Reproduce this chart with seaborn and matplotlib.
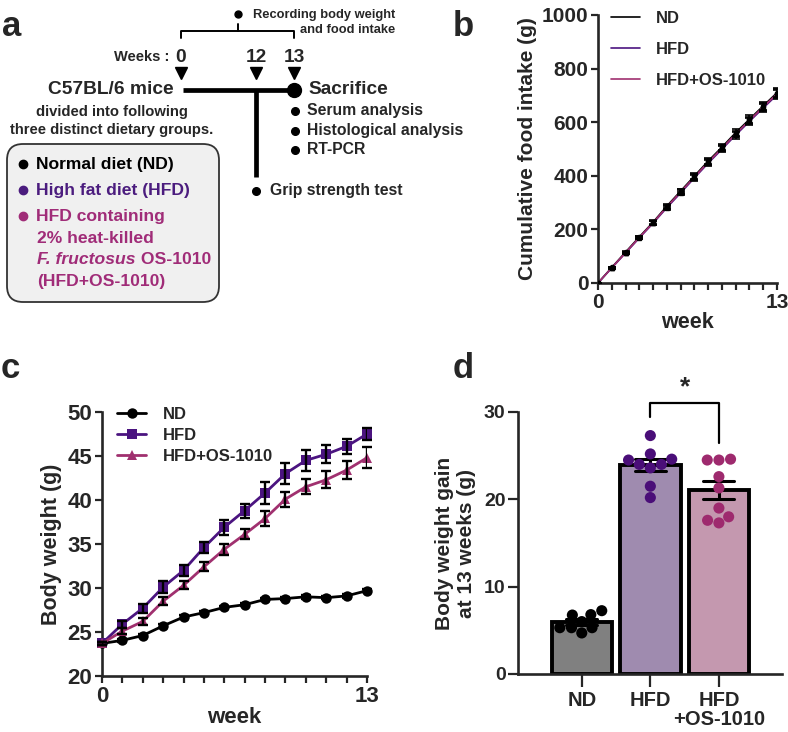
import numpy as np
import pandas as pd
import matplotlib
matplotlib.use("Agg")
import matplotlib.pyplot as plt
import seaborn as sns
from matplotlib.patches import FancyBboxPatch
from matplotlib.ticker import MultipleLocator

sns.set_style("ticks")
plt.rcParams['font.family'] = ['Liberation Sans', 'DejaVu Sans']
plt.rcParams['font.weight'] = 'bold'
plt.rcParams['axes.labelweight'] = 'bold'

# ---- data ----
groups = ['ND', 'HFD', 'HFD+OS-1010']
weeks = list(range(14))

# cumulative food intake (g)
food_nd = [0, 58, 115, 172, 227, 287, 343, 399, 455, 507, 561, 611, 661, 710]
food_hfd = [0, 56, 112, 168, 223, 281, 336, 392, 447, 499, 552, 603, 653, 702]
food_os = [0, 57, 113, 170, 225, 284, 340, 395, 451, 503, 556, 607, 657, 706]
food_sem = [0, 3, 4, 5, 7, 8, 9, 10, 11, 12, 13, 14, 15, 17]

# body weight (g)
bw_nd = [23.7, 24.05, 24.6, 25.7, 26.7, 27.2, 27.8, 28.1, 28.7, 28.8, 29.0, 28.9, 29.1, 29.7]
bw_hfd = [23.7, 25.9, 27.7, 30.1, 32.0, 34.6, 36.9, 38.8, 40.8, 43.0, 44.5, 45.2, 46.1, 47.5]
bw_os = [23.7, 25.1, 26.2, 28.5, 30.3, 32.4, 34.4, 36.1, 37.9, 40.1, 41.5, 42.3, 43.4, 44.8]
bw_nd_sem = [0.2, 0.2, 0.2, 0.2, 0.2, 0.2, 0.2, 0.2, 0.2, 0.2, 0.2, 0.2, 0.2, 0.2]
bw_hfd_sem = [0.2, 0.4, 0.5, 0.65, 0.65, 0.65, 0.85, 0.8, 1.2, 1.2, 1.2, 1.0, 0.85, 0.7]
bw_os_sem = [0.2, 0.3, 0.4, 0.45, 0.45, 0.5, 0.65, 0.55, 0.8, 0.85, 0.85, 0.95, 1.0, 1.2]

# body weight gain at 13 weeks (g), individual mice
gain_nd = [7.25, 6.0, 4.7, 5.3, 6.75, 5.3, 6.8, 5.3]
gain_hfd = [27.3, 24.6, 24.0, 23.6, 25.2, 24.0, 24.5, 21.5, 20.2]
gain_os = [24.5, 24.5, 24.6, 22.6, 21.3, 17.3, 18.0, 19.0, 17.6]

line_colors = ['#000000', '#4b1480', '#a0306f']
dot_colors = ['#000000', '#4a0e78', '#9e2a6e']
bar_colors = ['#808080', '#a085b5', '#cb91b0']
text_colors = ['#000000', '#4b1c7e', '#a02c78']

W, H = 788, 732
fig = plt.figure(figsize=(W / 100, H / 100), dpi=100)


def px_axes(l, t, r, b):
    return fig.add_axes([l / W, 1 - b / H, (r - l) / W, (b - t) / H])


def style_axis(ax, labelsize):
    sns.despine(ax=ax)
    for s in ['left', 'bottom']:
        ax.spines[s].set_linewidth(1.9)
    ax.tick_params(which='both', width=1.6, length=5, labelsize=labelsize, pad=2)


# ---------------- panel a (study design) ----------------
ax_a = px_axes(0, 0, 420, 340)
ax_a.set_xlim(0, 420)
ax_a.set_ylim(340, 0)
ax_a.axis('off')

ax_a.plot([181, 181, 294, 294], [38, 31, 31, 38], color='black', lw=1.4)
ax_a.plot([238, 238], [31, 24], color='black', lw=1.4)
ax_a.plot([238], [14], 'o', color='black', ms=5)
ax_a.text(253, 15, 'Recording body weight', fontsize=9.3, va='center', ha='left')
ax_a.text(395, 30, 'and food intake', fontsize=9.3, va='center', ha='right')

ax_a.text(169, 57, 'Weeks :', fontsize=10.5, va='center', ha='right')
for xw, lab in zip([181, 256, 294], ['0', '12', '13']):
    ax_a.text(xw, 57, lab, fontsize=13.8, va='center', ha='center')
    ax_a.plot([xw], [73], 'v', color='black', ms=9)

ax_a.plot([183, 294], [90, 90], color='black', lw=3.4, solid_capstyle='butt')
ax_a.plot([256, 256], [90, 177], color='black', lw=3.4, solid_capstyle='butt')
ax_a.plot([294], [90], 'o', color='black', ms=10)
ax_a.text(174, 90, 'C57BL/6 mice', fontsize=13.8, va='center', ha='right')
ax_a.text(308, 90, 'Sacrifice', fontsize=13.8, va='center', ha='left')
ax_a.text(112, 112, 'divided into following', fontsize=10.6, va='center', ha='center')
ax_a.text(112, 130, 'three distinct dietary groups.', fontsize=10.6, va='center', ha='center')

for yy, lab in zip([111, 131, 150], ['Serum analysis', 'Histological analysis', 'RT-PCR']):
    ax_a.plot([295], [yy], 'o', color='black', ms=5.5)
    ax_a.text(307, yy, lab, fontsize=11.3, va='center', ha='left')
ax_a.plot([256], [191], 'o', color='black', ms=5.5)
ax_a.text(270, 191, 'Grip strength test', fontsize=11.3, va='center', ha='left')

box = FancyBboxPatch((7, 144), 212, 158, boxstyle='round,pad=0,rounding_size=16',
                     facecolor='#f0f0f0', edgecolor='#333333', lw=1.3)
ax_a.add_patch(box)
ax_a.plot([23], [164], 'o', color=text_colors[0], ms=6)
ax_a.text(36, 164, 'Normal diet (ND)', fontsize=12.6, va='center', color=text_colors[0])
ax_a.plot([23], [190], 'o', color=text_colors[1], ms=6)
ax_a.text(36, 190, 'High fat diet (HFD)', fontsize=12.6, va='center', color=text_colors[1])
ax_a.plot([23], [216], 'o', color=text_colors[2], ms=6)
ax_a.text(36, 217, 'HFD containing', fontsize=12.6, va='center', color=text_colors[2])
ax_a.text(37, 238, '2% heat-killed', fontsize=12.6, va='center', color=text_colors[2])
t_it = ax_a.text(37, 259, 'F. fructosus', fontsize=12.6, va='center', style='italic',
                 color=text_colors[2])
ax_a.annotate(' OS-1010', xy=(1, 0.5), xycoords=t_it, fontsize=12.6, va='center',
              ha='left', color=text_colors[2])
ax_a.text(37, 281, '(HFD+OS-1010)', fontsize=12.6, va='center', color=text_colors[2])

# ---------------- panel b (food intake) ----------------
ax_b = px_axes(598, 15, 777, 283)
df_food = pd.DataFrame({
    'week': weeks * 3,
    'intake': food_nd + food_hfd + food_os,
    'group': [g for g in groups for _ in weeks],
})
sns.lineplot(data=df_food, x='week', y='intake', hue='group', hue_order=groups,
             palette=line_colors, lw=1.2, ax=ax_b)
for vals, c, m in zip([food_nd, food_hfd, food_os], line_colors, ['o', 's', '^']):
    ax_b.errorbar(weeks, vals, yerr=food_sem, fmt=m, ms=3, color='black', ecolor='black',
                  elinewidth=1.2, capsize=3, capthick=1.2, zorder=3)
ax_b.set_xlim(0, 13)
ax_b.set_ylim(0, 1000)
ax_b.set_xticks([0, 13])
ax_b.xaxis.set_minor_locator(MultipleLocator(1))
ax_b.set_yticks(range(0, 1001, 200))
ax_b.set_xlabel('week', fontsize=15.5, labelpad=0)
ax_b.set_ylabel('Cumulative food intake (g)', fontsize=15, labelpad=3)
style_axis(ax_b, 15)
leg = ax_b.legend(frameon=False, loc='upper left', bbox_to_anchor=(-0.01, 1.07),
                  fontsize=12, handlelength=1.75, labelspacing=0.95, handletextpad=0.9)
for h in leg.get_lines():
    h.set_linewidth(1.2)

# ---------------- panel c (body weight) ----------------
ax_c = px_axes(102, 412, 367, 676)
df_bw = pd.DataFrame({
    'week': weeks * 3,
    'bw': bw_nd + bw_hfd + bw_os,
    'group': [g for g in groups for _ in weeks],
})
for vals, sem in zip([bw_nd, bw_hfd, bw_os], [bw_nd_sem, bw_hfd_sem, bw_os_sem]):
    ax_c.errorbar(weeks, vals, yerr=sem, fmt='none', ecolor='black',
                  elinewidth=1.7, capsize=3.8, capthick=1.7, zorder=4)
sns.lineplot(data=df_bw, x='week', y='bw', hue='group', style='group', hue_order=groups,
             style_order=groups, palette=line_colors, markers=['o', 's', '^'], dashes=False,
             lw=2, markersize=7.5, markeredgewidth=0, ax=ax_c, zorder=3)
ax_c.set_xlim(0, 13)
ax_c.set_ylim(20, 50)
ax_c.set_xticks([0, 13])
ax_c.xaxis.set_minor_locator(MultipleLocator(1))
ax_c.set_yticks(range(20, 51, 5))
ax_c.set_xlabel('week', fontsize=16, labelpad=0)
ax_c.set_ylabel('Body weight (g)', fontsize=15.5, labelpad=4)
style_axis(ax_c, 16)
for ln in ax_c.get_lines():
    ln.set_clip_on(False)
ax_c.legend(frameon=False, loc='upper left', bbox_to_anchor=(0.0, 1.075),
            fontsize=12, handlelength=1.75, labelspacing=0.35, handletextpad=1.0)

# ---------------- panel d (body weight gain) ----------------
ax_d = px_axes(518, 412, 782, 674)
df_gain = pd.DataFrame({
    'group': ['ND'] * len(gain_nd) + ['HFD'] * len(gain_hfd) + ['HFD+OS-1010'] * len(gain_os),
    'gain': gain_nd + gain_hfd + gain_os,
})
sns.barplot(data=df_gain, x='group', y='gain', hue='group', order=groups, hue_order=groups,
            palette=bar_colors, errorbar='se', capsize=0.45, width=0.88,
            err_kws={'color': 'black', 'linewidth': 2.2}, edgecolor='black', linewidth=2.8,
            legend=False, ax=ax_d)
sns.swarmplot(data=df_gain, x='group', y='gain', hue='group', order=groups, hue_order=groups,
              palette=dot_colors, size=8, legend=False, ax=ax_d, zorder=3)
ax_d.set_xlim(-0.93, 2.92)
ax_d.set_ylim(0, 30)
ax_d.set_yticks([0, 10, 20, 30])
ax_d.set_xticks([0, 1, 2])
ax_d.set_xticklabels(['ND', 'HFD', 'HFD\n+OS-1010'], linespacing=1.05)
ax_d.set_xlabel('')
ax_d.set_ylabel('Body weight gain\nat 13 weeks (g)', fontsize=15, linespacing=1.2, labelpad=6)
style_axis(ax_d, 14)
ax_d.tick_params(axis='y', length=7)
ax_d.tick_params(axis='x', length=9, labelsize=14.5, pad=3)

# significance bracket
ax_d.plot([1, 1, 2, 2], [29.4, 31.0, 31.0, 26.5], color='black', lw=1.6, clip_on=False)
ax_d.text(1.5, 32.8, '*', fontsize=19, ha='center', va='center')

# ---------------- panel letters ----------------
for x, y, lab in [(12, 27, 'a'), (463, 27, 'b'), (10, 369, 'c'), (463, 368, 'd')]:
    fig.text(x / W, 1 - y / H, lab, fontsize=25, fontweight='bold', ha='center', va='center')

fig.savefig('out.png', dpi=100)
